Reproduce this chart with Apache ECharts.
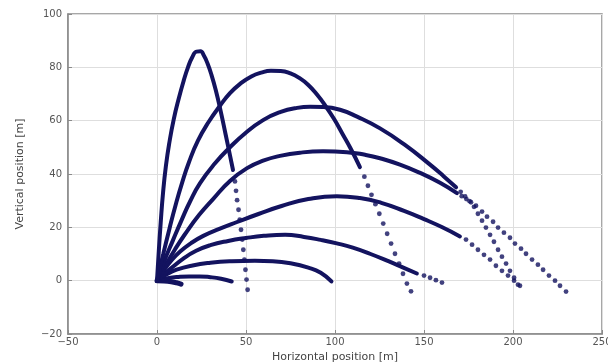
<!DOCTYPE html>
<html>
<head>
<meta charset="utf-8">
<script src="https://cdn.jsdelivr.net/npm/echarts@6/dist/echarts.min.js"></script>
<style>
  html, body { margin: 0; padding: 0; background: #fff; }
  #chart { width: 608px; height: 362px; }
</style>
</head>
<body>
<div id="chart"></div>
<script>
// axis ticks
const xTicks = [-50, 0, 50, 100, 150, 200, 250];
const yTicks = [-20, 0, 20, 40, 60, 80, 100];

// trajectories: [x, y] in metres
// dense (continuous looking) part of each path
const path0 = [[0, 0], [4, -0.1], [8, -0.4], [11, -0.8], [13.5, -1.3]];
const path10 = [[0, 0], [6, 0.9], [12, 1.4], [18, 1.6], [24, 1.6], [30, 1.3], [36, 0.7], [42, -0.3]];
const path20 = [[0, 0], [5, 2.2], [11, 4.1], [20, 5.7], [30, 6.7], [42, 7.3], [55, 7.5], [65, 7.3], [75, 6.5], [85, 4.9], [92, 3.0], [98, -0.3]];
const path30 = [[0, 0], [4, 2.4], [8, 4.7], [14.6, 8.2], [22, 11.2], [30, 13.3], [40, 14.9], [50, 16.0], [60, 16.8], [72, 17.2], [82.6, 16.4], [92, 15.3], [101, 14.0], [110, 12.4], [120, 10.0], [130, 7.3], [139, 4.7], [146, 2.7]];
const path40 = [[0, 0], [4, 4.0], [8, 7.5], [13, 10.9], [19, 14.0], [26, 16.8], [35, 19.4], [45, 22.0], [57, 25.0], [70, 28.0], [85, 30.6], [101, 31.7], [114, 31.0], [126, 29.2], [138.8, 26.2], [150, 23.1], [160, 20.1], [170.2, 16.6]];
const path50 = [[0, 0], [5, 6], [10, 11.6], [15.7, 17.4], [23.6, 24.6], [31.5, 30.6], [41, 37.4], [50.6, 42.2], [59.6, 45.0], [69.1, 46.8], [80.3, 48.0], [93.3, 48.5], [106.7, 48.2], [116.9, 47.2], [125.3, 45.9], [136.5, 43.5], [147.8, 40.4], [159, 36.7], [168.5, 32.8]];
const path60 = [[0, 0], [4, 7.2], [9, 15.2], [14, 23], [18.5, 29.6], [24.2, 36.6], [32.6, 44], [41, 50.0], [49.4, 55.2], [59.6, 60.2], [69.1, 63.2], [78.7, 64.8], [86, 65.2], [93.3, 65.1], [102.8, 64.1], [112.4, 61.5], [125.3, 57.1], [139.3, 50.9], [153.4, 43.5], [161, 39.2], [168, 35]];
const path70 = [[0, 0], [3.5, 10], [7, 19.5], [10.5, 28.5], [14, 36.5], [18, 44.5], [23, 52.5], [29, 59.5], [35.4, 65.6], [41, 70.3], [47, 74.0], [53, 76.6], [58.5, 78.0], [64, 78.7], [69.5, 78.6], [75, 77.7], [80, 76.0], [85, 73.4], [90, 69.7], [95, 65.2], [99.5, 60.6], [104, 55.3], [109, 49.3], [114, 42.6]];
const path80 = [[0, 0], [1, 11], [2.1, 22], [3.4, 33], [5, 43], [7, 52], [9.4, 60.5], [12.3, 68.5], [15, 75], [17.4, 80.0], [19.8, 83.8], [22.2, 85.9], [24.4, 86.0], [26.4, 84.3], [28.4, 81.4], [30.5, 77.4], [33, 71.5], [35.8, 63.5], [38.5, 55], [41, 47], [42.7, 41.5]];

// sparse falling tails where single markers are visible
const tail30 = [[150, 1.9], [153.4, 1.1], [156.7, 0.2], [160.1, -0.7]];
const tail40 = [[173.6, 15.4], [177.0, 13.5], [180.3, 11.6], [183.7, 9.7], [187.1, 7.9], [190.4, 5.6], [193.8, 3.7], [197.2, 1.9], [200.6, 0], [203.9, -1.9]];
const tail50 = [[171.2, 31.7], [173.8, 30.6], [176.4, 29.4], [179.2, 28.1], [182.6, 25.9], [185.4, 24.0], [188.8, 22.1], [191.6, 19.9], [194.9, 18.0], [198.3, 16.1], [201.1, 13.9], [204.5, 12.0], [207.3, 10.1], [210.7, 7.9], [214.0, 6.0], [216.9, 4.1], [220.2, 1.9], [223.6, 0], [226.4, -1.9], [229.8, -4.1]];
const tail60 = [[170.6, 33.3], [173.1, 31.6], [175.6, 29.8], [178.1, 27.7], [180.3, 25.1], [182.6, 22.5], [184.8, 19.9], [187.1, 17.2], [189.3, 14.6], [191.6, 11.6], [193.8, 9.0], [196.1, 6.4], [198.3, 3.7], [200.6, 1.1], [202.8, -1.5]];
const tail70 = [[116.5, 39.0], [118.5, 35.6], [120.5, 32.2], [122.7, 28.7], [124.9, 25.1], [127.1, 21.4], [129.3, 17.6], [131.5, 13.9], [133.7, 10.1], [136.0, 6.4], [138.2, 2.6], [140.4, -1.1], [142.7, -4.0]];
const tail80 = [[43.8, 37.2], [44.4, 33.7], [45.0, 30.2], [45.8, 26.6], [46.5, 22.9], [47.2, 19.1], [47.9, 15.4], [48.5, 11.6], [49.1, 7.9], [49.7, 4.1], [50.3, 0.4], [50.9, -3.4]];

const paths = [path0, path10, path20, path30, path40, path50, path60, path70, path80];
const tails = [tail30, tail40, tail50, tail60, tail70, tail80];

const markColor = '#13135f';
const fontFamily = 'DejaVu Sans';

const chart = echarts.init(document.getElementById('chart'));

const minus = v => String(v).replace('-', '\u2212');

const series = [];
paths.forEach((p, i) => {
  series.push({
    type: 'line',
    data: p,
    smooth: 0.5,
    showSymbol: false,
    symbol: 'none',
    lineStyle: { color: markColor, width: i === 0 ? 5 : 4, cap: 'round', join: 'round' },
    z: 3,
    silent: true
  });
});
tails.forEach(t => {
  series.push({
    type: 'scatter',
    data: t,
    symbolSize: 4.8,
    itemStyle: { color: markColor },
    z: 3,
    silent: true
  });
});

const option = {
  animation: false,
  backgroundColor: '#fff',
  grid: {
    left: 68,
    right: 6,
    top: 14,
    bottom: 28,
    containLabel: false,
    outerBoundsMode: 'none',
    show: true,
    borderColor: '#8a8a8a',
    borderWidth: 1.5
  },
  xAxis: {
    type: 'value',
    min: xTicks[0],
    max: xTicks[xTicks.length - 1],
    interval: 50,
    name: 'Horizontal position [m]',
    nameLocation: 'middle',
    nameGap: 13,
    nameTextStyle: { fontFamily, fontSize: 11, color: '#444' },
    axisLine: { onZero: false, lineStyle: { color: '#8a8a8a', width: 1.5 } },
    axisTick: { inside: true, length: 4, lineStyle: { color: '#8a8a8a' } },
    axisLabel: { fontFamily, fontSize: 10, color: '#555', margin: 3, formatter: minus },
    splitLine: { lineStyle: { color: '#dedede', width: 1 } }
  },
  yAxis: {
    type: 'value',
    min: yTicks[0],
    max: yTicks[yTicks.length - 1],
    interval: 20,
    name: 'Vertical position [m]',
    nameLocation: 'middle',
    nameGap: 42,
    nameTextStyle: { fontFamily, fontSize: 11, color: '#444' },
    axisLine: { onZero: false, lineStyle: { color: '#8a8a8a', width: 1.5 } },
    axisTick: { inside: true, length: 4, lineStyle: { color: '#8a8a8a' } },
    axisLabel: { fontFamily, fontSize: 10, color: '#555', margin: 6, formatter: minus },
    splitLine: { lineStyle: { color: '#dedede', width: 1 } }
  },
  series
};

chart.setOption(option);
</script>
</body>
</html>
